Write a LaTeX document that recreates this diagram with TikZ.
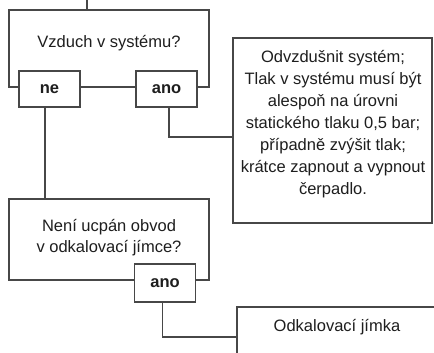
\documentclass[tikz,border=0pt]{standalone}
\usepackage{fontspec}
\setmainfont{Liberation Sans}
\definecolor{linec}{HTML}{474747}
\definecolor{textc}{HTML}{1E1E1E}
\begin{document}
\begin{tikzpicture}[x=1pt,y=-1pt,
  box/.style={draw=linec, line width=1.6pt, fill=white, inner sep=0pt},
  lab/.style={font=\fontsize{16.5}{21}\selectfont, text=textc, align=center, inner sep=0pt},
  ans/.style={box, minimum width=61pt, minimum height=36pt, font=\fontsize{16.5}{20}\selectfont\bfseries, text=textc},
  conn/.style={draw=linec, line width=1.6pt}]
\clip (0,0) rectangle (434,353);
% boxes
\node[box, minimum width=200pt, minimum height=77pt] (q1) at (109,48.5) {};
\node[lab] (q1t) at (109,43) {Vzduch v systému?};
\node[ans] (ne) at (49.5,89) {ne};
\node[ans] (ano) at (166.5,89) {ano};
\node[box, minimum width=199pt, minimum height=185pt] (A) at (332.5,130.5) {};
\node[lab, font=\fontsize{16.5}{22}\selectfont] (At) at (333,124.5) {Odvzdušnit systém;\\Tlak v systému musí být\\alespoň na úrovni\\statického tlaku 0,5 bar;\\případně zvýšit tlak;\\krátce zapnout a vypnout\\čerpadlo.};
\node[box, minimum width=200pt, minimum height=81pt] (q2) at (109,239.5) {};
\node[lab] (q2t) at (109,237.5) {Není ucpán obvod\\v odkalovací jímce?};
\node[ans, minimum height=38pt] (ano2) at (165,283) {ano};
\node[box, minimum width=250pt, minimum height=100pt] (B) at (362,357) {};
\node[lab] (Bt) at (337,327) {Odkalovací jímka};
% connectors
\coordinate (top) at (87,0);
\draw[conn] (top) -- (top |- q1.north);
\draw[conn] ([xshift=-4.5pt]ne.south) -- ([xshift=-4.5pt]ne.south |- q2.north);
\draw[conn] ([xshift=2.5pt]ano.south) |- ([yshift=-6.5pt]A.west);
\draw[conn] ([xshift=-2.5pt]ano2.south) |- (B.west |- 0,337);
\end{tikzpicture}
\end{document}
